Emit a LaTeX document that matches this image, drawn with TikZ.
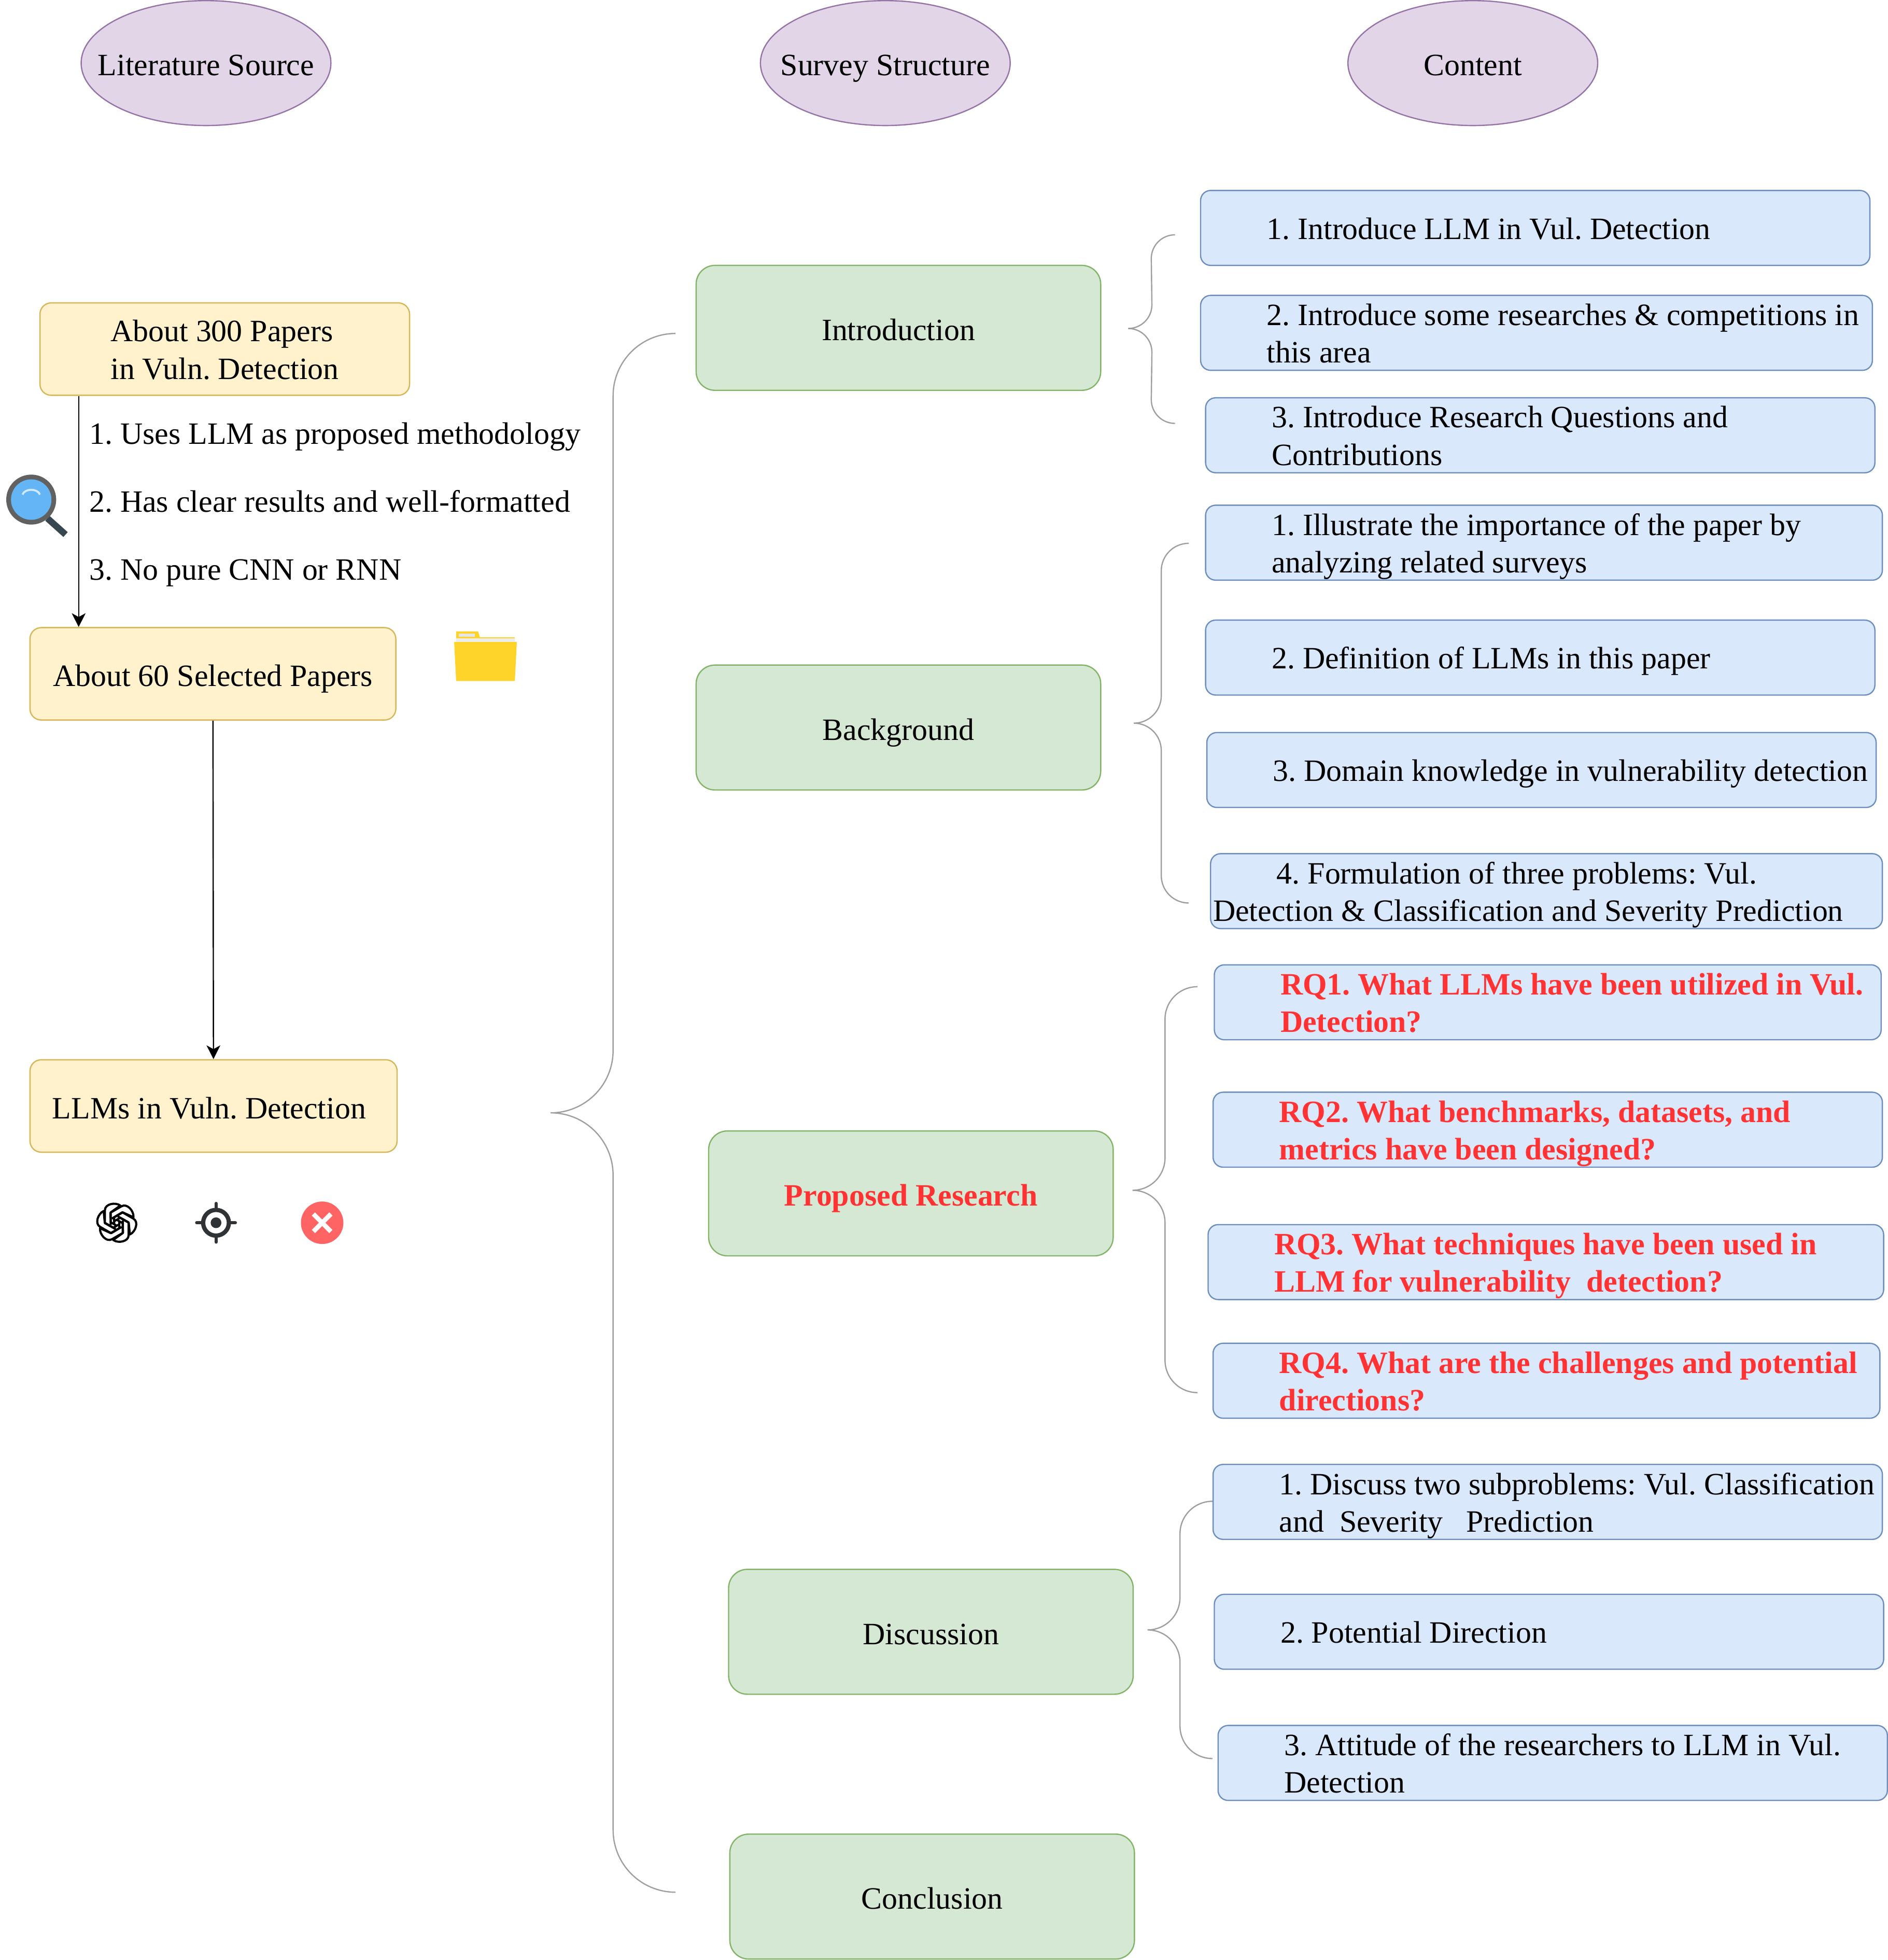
\documentclass[tikz,border=0pt]{standalone}
\usepackage{fontspec}
\setmainfont{Liberation Serif}
\usetikzlibrary{arrows.meta,calc,shapes.geometric}

\definecolor{heads}{HTML}{E1D5E7}
\definecolor{headline}{HTML}{9673A6}
\definecolor{paper}{HTML}{FFF2CC}
\definecolor{paperline}{HTML}{D6B656}
\definecolor{part}{HTML}{D5E8D4}
\definecolor{partline}{HTML}{82B366}
\definecolor{item}{HTML}{DAE8FC}
\definecolor{itemline}{HTML}{6C8EBF}
\definecolor{asked}{HTML}{FF3333}
\definecolor{foldery}{HTML}{FFD42A}
\definecolor{lens}{HTML}{64B5F6}
\definecolor{lensrim}{HTML}{616161}
\definecolor{lenshandle}{HTML}{37474F}
\definecolor{crosshair}{HTML}{2F3336}
\definecolor{failed}{HTML}{FF6464}

\newcommand{\tstrut}{\rule[-3pt]{0pt}{15pt}}
\newcommand{\pad}{\tstrut\hspace*{25.5pt}}
\newcommand{\curly}[4]{\draw[curl] (#1) to[out=180,in=90] ($(#1)+(-#4,#4)$) -- ($(#2)+(#4,-#4)$) to[out=-90,in=0] (#2) to[out=0,in=90] ($(#2)+(#4,#4)$) -- ($(#3)+(-#4,-#4)$) to[out=-90,in=180] (#3);}

\begin{document}
\begin{tikzpicture}[x=0.5pt,y=-0.5pt,line width=0.5pt,font=\fontsize{12.43}{15}\selectfont\frenchspacing]
\tikzset{oneline/.style = {text height=12.5pt,text depth=2.5pt}}
\tikzset{oval/.style = {shape=ellipse,draw=headline,fill=heads,minimum width=100pt,minimum height=50pt,inner sep=0pt}}
\tikzset{paperbox/.style = {shape=rectangle,rounded corners=4.5pt,draw=paperline,fill=paper,minimum width=#1,minimum height=37pt,inner sep=0pt,align=left}}
\tikzset{partbox/.style = {shape=rectangle,rounded corners=7.5pt,draw=partline,fill=part,minimum width=162pt,minimum height=50pt,inner sep=0pt,oneline}}
\tikzset{itembox/.style = {shape=rectangle,rounded corners=4pt,draw=itemline,fill=item,text width=#1,minimum height=30pt,inner xsep=1pt,inner ysep=0pt,execute at begin node={\raggedright\spaceskip=0pt\xspaceskip=0pt\hyphenpenalty=10000}}}
\tikzset{rqtext/.style = {font=\fontsize{12.43}{15}\selectfont\frenchspacing\bfseries,text=asked}}
\tikzset{rule/.style = {anchor=west,inner sep=0pt,oneline}}
\tikzset{edge/.style = {->,> = {Stealth[length=5.5pt,width=5.5pt,inset=1.5pt]}}}
\tikzset{curl/.style = {draw=black!38,line width=0.5pt}}

\useasboundingbox (0,0) rectangle (1512,1569.3);

\node[oval,label={[oneline]center:Literature Source}] (srchead) at (165,50.5) {};
\node[oval,label={[oneline]center:Survey Structure}] (strhead) at (709,50.5) {};
\node[oval,label={[oneline]center:Content}] (conhead) at (1179.5,50.5) {};

\node[paperbox=148pt] (papers) at (180,279.5) {\tstrut About 300 Papers\\\tstrut in Vuln. Detection};
\node[paperbox=146.5pt,oneline] (selected) at (170.5,539.5) {About 60 Selected Papers};
\node[paperbox=147pt,oneline] (llms) at (171,885.5) {LLMs in Vuln. Detection\hspace*{3.5pt}};

\node[rule] (rule1) at (71,345.5) {1. Uses LLM as proposed methodology};
\node[rule] (rule2) at (71,400) {2. Has clear results and well-formatted};
\node[rule] (rule3) at (71,454.5) {3. No pure CNN or RNN};

\draw[edge] ([xshift=15.75pt]papers.south west) to ([xshift=19.75pt]selected.north west);
\draw[edge] (selected) to (llms);

\node[partbox] (intro) at (719.5,262.5) {Introduction};
\node[partbox] (back) at (719.5,582.5) {Background};
\node[partbox,rqtext] (prop) at (729.5,955.5) {Proposed Research};
\node[partbox] (disc) at (745.5,1306.5) {Discussion};
\node[partbox] (concl) at (746.5,1518.5) {Conclusion};

\node[itembox=266pt] (c11) at (1229.5,182.5) {\pad 1. Introduce LLM in Vul. Detection};
\node[itembox=267pt] (c12) at (1230.5,266.5) {\pad 2. Introduce some researches \& competitions in\\\pad this area};
\node[itembox=266pt] (c13) at (1233.5,348.5) {\pad 3. Introduce Research Questions and\\\pad Contributions};

\node[itembox=269pt] (c21) at (1236.5,434.5) {\pad 1. Illustrate the importance of the paper by\\\pad analyzing related surveys};
\node[itembox=266pt] (c22) at (1233.5,526.5) {\pad 2. Definition of LLMs in this paper};
\node[itembox=266pt] (c23) at (1234.5,616.5) {\pad 3. Domain knowledge in vulnerability detection};
\node[itembox=267pt] (c24) at (1238.5,713.5) {\pad 4. Formulation of three problems: Vul.\\\tstrut Detection \& Classification and Severity Prediction};

\node[itembox=265pt,rqtext] (c31) at (1239.5,802.5) {\pad RQ1. What LLMs have been utilized in Vul.\\\pad Detection?};
\node[itembox=266pt,rqtext] (c32) at (1239.5,904.5) {\pad RQ2. What benchmarks, datasets, and\\\pad metrics have been designed?};
\node[itembox=268.5pt,rqtext] (c33) at (1238,1010.5) {\pad RQ3. What techniques have been used in\\\pad LLM for vulnerability\ \ detection?};
\node[itembox=265pt,rqtext] (c34) at (1238.5,1105.5) {\pad RQ4. What are the challenges and potential\\\pad directions?};

\node[itembox=266pt] (c41) at (1239.5,1202.5) {\pad 1. Discuss two subproblems: Vul. Classification\\\pad and\ \ Severity\ \ \ Prediction};
\node[itembox=266pt] (c42) at (1240.5,1306.5) {\pad 2. Potential Direction};
\node[itembox=266pt] (c43) at (1243.5,1411.5) {\pad 3. Attitude of the researchers to LLM in Vul.\\\pad Detection};

\coordinate (ma) at (541,267);
\coordinate (mb) at (441,891);
\coordinate (mc) at (541,1515);
\curly{ma}{mb}{mc}{50}

\coordinate (ia) at (941,188);
\coordinate (ib) at (903.5,263);
\coordinate (ic) at (941,339);
\curly{ia}{ib}{ic}{19}

\coordinate (ba) at (952,435);
\coordinate (bb) at (908,579);
\coordinate (bc) at (952,723);
\curly{ba}{bb}{bc}{22}

\coordinate (pa) at (959,790);
\coordinate (pb) at (907,953);
\coordinate (pc) at (959,1115);
\curly{pa}{pb}{pc}{26}

\coordinate (da) at (971,1202);
\coordinate (db) at (919,1305);
\coordinate (dc) at (971,1408);
\curly{da}{db}{dc}{26}

\draw[line width=2.6pt,draw=lenshandle,line cap=butt] (38,415) -- (52.5,428);
\fill[lensrim] (25,400) circle (10pt);
\fill[lens] (25,400) circle (8.1pt);
\draw[white!70!lens,line width=0.8pt] (18,396) to[out=70,in=110] (32,396);

\fill[foldery] (365.3,512) -- (365.3,505.5) -- (382.8,505.5) -- (384.4,510.3) -- (412.3,510.3) -- (412.3,512) -- cycle;
\fill[black!10] (367.5,507.5) rectangle (380.2,510);
\fill[black!8] (365.3,511) rectangle (412.3,514);
\fill[foldery] (363.7,514) -- (413.9,514) -- (412.3,545.2) -- (365.3,545.2) -- cycle;

\begin{scope}[shift={(93.5,979)},y=0.5pt]
\foreach \a in {0,60,...,300}
  \draw[rotate=\a,line width=0.85pt,line join=round] (-0.9,-5.1) -- (-9.5,-0.3) -- (-9.5,10) to[out=90,in=145] (2.9,13.8) -- (-4.8,8.3) -- (-4.8,0.4) -- (0,-2.4);
\end{scope}

\begin{scope}[shift={(173,979)},y=0.5pt]
\draw[draw=crosshair,line width=1.7pt] (0,0) circle (5.15pt);
\fill[crosshair] (0,0) circle (2.15pt);
\foreach \a in {0,90,180,270}
  \draw[rotate=\a,draw=crosshair,line width=1.25pt,line cap=round] (12,0) -- (15.5,0);
\end{scope}

\fill[failed] (258,979) circle (8.5pt);
\draw[white,line width=1.8pt] (251,972) -- (265,986);
\draw[white,line width=1.8pt] (251,986) -- (265,972);

\end{tikzpicture}
\end{document}
